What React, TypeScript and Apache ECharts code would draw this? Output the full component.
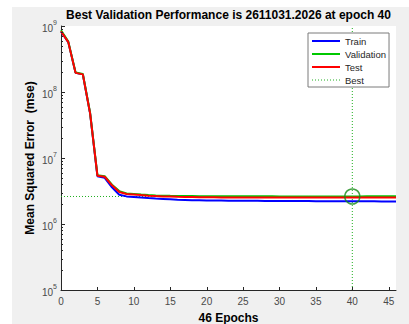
import React, { useEffect, useRef } from 'react';
import * as echarts from 'echarts';

// Mean squared error per epoch (epochs 0..46)
const trainMse = [
  8.3e8, 5.7e8, 1.95e8, 1.85e8, 4.7e7, 5.3e6, 5.0e6, 3.6e6, 2.78e6, 2.62e6,
  2.57e6, 2.52e6, 2.47e6, 2.43e6, 2.40e6, 2.37e6, 2.34e6, 2.32e6, 2.30e6, 2.29e6,
  2.28e6, 2.27e6, 2.27e6, 2.26e6, 2.26e6, 2.25e6, 2.25e6, 2.25e6, 2.24e6, 2.24e6,
  2.24e6, 2.23e6, 2.23e6, 2.23e6, 2.23e6, 2.22e6, 2.22e6, 2.22e6, 2.22e6, 2.22e6,
  2.22e6, 2.21e6, 2.21e6, 2.21e6, 2.20e6, 2.20e6, 2.20e6,
];
const validationMse = [
  8.6e8, 5.8e8, 1.97e8, 1.87e8, 4.8e7, 5.5e6, 5.3e6, 3.95e6, 3.15e6, 2.9e6,
  2.86e6, 2.8e6, 2.75e6, 2.71e6, 2.69e6, 2.67e6, 2.66e6, 2.65e6, 2.65e6, 2.64e6,
  2.64e6, 2.64e6, 2.635e6, 2.635e6, 2.63e6, 2.63e6, 2.63e6, 2.625e6, 2.625e6, 2.625e6,
  2.62e6, 2.62e6, 2.62e6, 2.62e6, 2.618e6, 2.617e6, 2.616e6, 2.615e6, 2.614e6, 2.613e6,
  2611031.2026, 2.62e6, 2.625e6, 2.63e6, 2.63e6, 2.63e6, 2.635e6,
];
const testMse = [
  8.3e8, 5.7e8, 1.95e8, 1.85e8, 4.7e7, 5.4e6, 5.2e6, 3.85e6, 3.05e6, 2.85e6,
  2.8e6, 2.74e6, 2.69e6, 2.65e6, 2.62e6, 2.6e6, 2.58e6, 2.57e6, 2.56e6, 2.55e6,
  2.54e6, 2.54e6, 2.53e6, 2.53e6, 2.53e6, 2.53e6, 2.53e6, 2.52e6, 2.52e6, 2.52e6,
  2.52e6, 2.52e6, 2.52e6, 2.52e6, 2.52e6, 2.52e6, 2.52e6, 2.52e6, 2.52e6, 2.52e6,
  2.52e6, 2.52e6, 2.53e6, 2.53e6, 2.53e6, 2.53e6, 2.53e6,
];

const bestEpoch = 40;
const bestPerf = 2611031.2026;
const totalEpochs = 46;

const xTicks = [0, 5, 10, 15, 20, 25, 30, 35, 40, 45];
const yDecades = [1e5, 1e6, 1e7, 1e8];
const yMinorSteps = [2, 3, 4, 5, 6, 7, 8, 9];

const FONT = '"Liberation Sans", Arial, Helvetica, sans-serif';
const AXIS_COLOR = '#262626';
const HIDDEN_SYMBOL = { color: 'rgba(0,0,0,0)', borderColor: 'rgba(0,0,0,0)', borderWidth: 0, opacity: 0 };

export default function App() {
  const ref = useRef<HTMLDivElement>(null);

  useEffect(() => {
    if (!ref.current) return;
    const chart = echarts.init(ref.current, undefined, { renderer: 'svg' });

    const toPairs = (arr: number[]) => arr.map((v, i) => [i, v]);
    const minorTicks: number[][] = [];
    yDecades.forEach((d) => yMinorSteps.forEach((m) => minorTicks.push([0, d * m])));

    const option: any = {
      animation: false,
      backgroundColor: '#f0f0f0',
      textStyle: { fontFamily: FONT },
      grid: {
        left: 49,
        top: 19,
        right: 13,
        bottom: 34,
        show: true,
        backgroundColor: '#ffffff',
        borderWidth: 0,
      },
      xAxis: {
        type: 'value',
        min: 0,
        max: totalEpochs,
        interval: 5,
        splitLine: { show: false },
        axisLine: { lineStyle: { color: AXIS_COLOR, width: 1 } },
        axisTick: { show: false },
        axisLabel: {
          color: '#4a4a4a',
          fontSize: 10,
          fontFamily: FONT,
          margin: 6,
          showMaxLabel: false,
        },
      },
      yAxis: {
        type: 'log',
        logBase: 10,
        min: 1e5,
        max: 1e9,
        splitLine: { show: false },
        axisLine: { show: true, lineStyle: { color: AXIS_COLOR, width: 1 } },
        axisTick: { show: true, inside: true, length: 4, lineStyle: { color: AXIS_COLOR } },
        axisLabel: {
          margin: 4,
          formatter: (v: number) => `{b|10}{s|${Math.round(Math.log10(v))}}`,
          rich: {
            b: { fontSize: 10, color: '#4a4a4a', fontFamily: FONT, lineHeight: 14, verticalAlign: 'bottom' },
            s: { fontSize: 7, color: '#4a4a4a', fontFamily: FONT, lineHeight: 14, verticalAlign: 'top' },
          },
        },
      },
      legend: {
        orient: 'vertical',
        left: 296,
        top: 26,
        padding: [3, 3, 2, 3],
        itemGap: 3,
        itemWidth: 28,
        itemHeight: 10,
        backgroundColor: '#ffffff',
        borderColor: '#7a7a7a',
        borderWidth: 1,
        borderRadius: 0,
        itemStyle: HIDDEN_SYMBOL,
        textStyle: { fontSize: 9.5, color: AXIS_COLOR, fontFamily: FONT },
        data: [
          { name: 'Train' },
          { name: 'Validation' },
          { name: 'Test' },
          { name: 'Best', lineStyle: { width: 1, type: [1, 2] } },
        ],
      },
      graphic: [
        {
          type: 'text',
          x: 216.5,
          y: 8,
          style: {
            text: 'Best Validation Performance is 2611031.2026 at epoch 40',
            font: `bold 12px ${FONT}`,
            fill: '#000000',
            textAlign: 'center',
            textVerticalAlign: 'middle',
          },
        },
        {
          type: 'text',
          x: 216.5,
          y: 311,
          style: {
            text: '46 Epochs',
            font: `bold 12px ${FONT}`,
            fill: '#000000',
            textAlign: 'center',
            textVerticalAlign: 'middle',
          },
        },
        {
          type: 'text',
          x: 18,
          y: 151,
          rotation: Math.PI / 2,
          style: {
            text: 'Mean Squared Error  (mse)',
            font: `bold 12px ${FONT}`,
            fill: '#000000',
            textAlign: 'center',
            textVerticalAlign: 'middle',
          },
        },
      ],
      series: [
        {
          name: 'Best',
          type: 'line',
          symbol: 'none',
          silent: true,
          z: 1,
          lineStyle: { color: '#20b020', width: 1, type: [1, 2] },
          itemStyle: { color: '#20b020' },
          data: [[0, bestPerf], [totalEpochs, bestPerf]],
        },
        {
          name: 'Best',
          type: 'line',
          symbol: 'none',
          silent: true,
          z: 1,
          lineStyle: { color: '#20b020', width: 1, type: [1, 2] },
          itemStyle: { color: '#20b020' },
          data: [[bestEpoch, 1e5], [bestEpoch, 1e9]],
        },
        {
          name: 'Train',
          type: 'line',
          symbol: 'none',
          z: 2,
          lineStyle: { color: '#0000ff', width: 2 },
          itemStyle: { color: '#0000ff' },
          data: toPairs(trainMse),
        },
        {
          name: 'Validation',
          type: 'line',
          symbol: 'none',
          z: 3,
          lineStyle: { color: '#00c800', width: 2 },
          itemStyle: { color: '#00c800' },
          data: toPairs(validationMse),
        },
        {
          name: 'Test',
          type: 'line',
          symbol: 'none',
          z: 4,
          lineStyle: { color: '#ff0000', width: 2 },
          itemStyle: { color: '#ff0000' },
          data: toPairs(testMse),
        },
        {
          name: 'bestMarker',
          type: 'scatter',
          z: 5,
          symbol: 'circle',
          symbolSize: 15,
          itemStyle: { color: 'rgba(0,0,0,0)', borderColor: '#178a17', borderWidth: 1.5 },
          data: [[bestEpoch, bestPerf]],
        },
        {
          name: 'xTicks',
          type: 'custom',
          z: 6,
          silent: true,
          data: xTicks.map((t) => [t, 1e5]),
          renderItem: (_p: any, api: any) => {
            const pt = api.coord([api.value(0), api.value(1)]);
            const x = Math.round(pt[0]) + 0.5;
            return {
              type: 'line',
              shape: { x1: x, y1: pt[1], x2: x, y2: pt[1] - 3 },
              style: { stroke: AXIS_COLOR, lineWidth: 1 },
            };
          },
        },
        {
          name: 'yMinorTicks',
          type: 'custom',
          z: 6,
          silent: true,
          data: minorTicks,
          renderItem: (_p: any, api: any) => {
            const pt = api.coord([api.value(0), api.value(1)]);
            const y = Math.round(pt[1]) + 0.5;
            return {
              type: 'line',
              shape: { x1: pt[0], y1: y, x2: pt[0] + 2, y2: y },
              style: { stroke: AXIS_COLOR, lineWidth: 1 },
            };
          },
        },
      ],
    };

    chart.setOption(option);
    return () => chart.dispose();
  }, []);

  return (
    <div
      ref={ref}
      style={{ position: 'fixed', left: 12, top: 7, width: 397, height: 317 }}
    />
  );
}
